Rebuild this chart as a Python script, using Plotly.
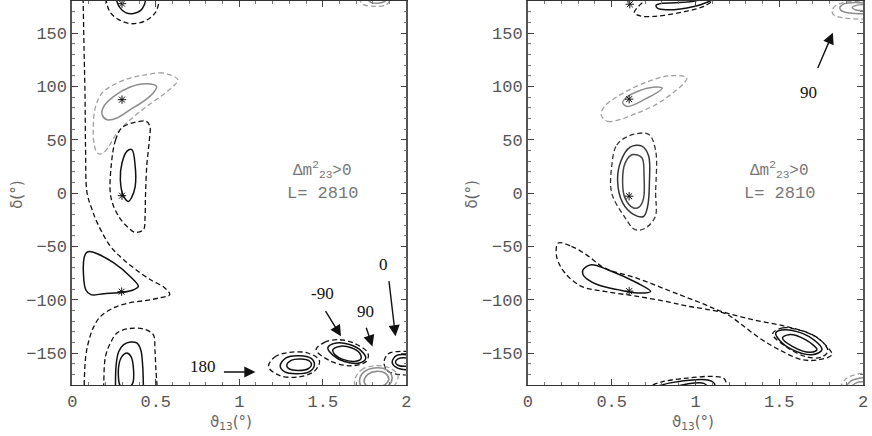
import plotly.graph_objects as go

# contour lines, points are (theta13 [deg], delta [deg])

# ---- left panel ----
L_BIG_DASH = [(0.065, 183), (0.071, 134), (0.077, 88), (0.080, 41), (0.089, 0), (0.12, -16),
              (0.15, -28), (0.229, -50), (0.308, -62.5), (0.406, -74.7), (0.485, -82.9),
              (0.544, -87.6), (0.584, -95.3), (0.525, -98.2), (0.445, -100.7), (0.347, -102.8),
              (0.249, -107.5), (0.170, -115.7), (0.130, -125), (0.101, -137.5), (0.081, -153.2),
              (0.071, -183)]
L_TOP_SOLID = [(0.26, 183), (0.284, 174), (0.320, 169.1), (0.367, 168.2), (0.408, 171),
               (0.432, 176.5), (0.44, 183)]
L_TOP_DASH = [(0.20, 183), (0.225, 170), (0.278, 162.5), (0.355, 158.7), (0.438, 161.5),
              (0.497, 169), (0.525, 183)]
L_GRAY_DASH = [(0.633, 106.3), (0.544, 112.5), (0.446, 110.9), (0.347, 107.8), (0.249, 101.5),
               (0.179, 93.8), (0.140, 81.2), (0.126, 62.4), (0.130, 46.9), (0.150, 37.5),
               (0.179, 36.8), (0.219, 43.7), (0.268, 56.2), (0.347, 68.7), (0.446, 81.2),
               (0.544, 92.2), (0.614, 101.5)]
L_GRAY_SOLID = [(0.505, 100), (0.446, 102.5), (0.347, 99.4), (0.249, 90.6), (0.189, 81.2),
                (0.179, 73.4), (0.209, 68.7), (0.268, 70.3), (0.347, 78.1), (0.426, 85.9),
                (0.485, 93.8)]
L_MID_DASH = [(0.298, 61.2), (0.260, 50), (0.234, 26.5), (0.231, -3.5), (0.278, -21.9),
              (0.337, -32.8), (0.377, -36.9), (0.426, -34.4), (0.436, -21.9), (0.438, -6.3),
              (0.446, 25), (0.462, 50), (0.465, 62.4), (0.444, 67.1), (0.379, 66.4)]
L_MID_SOLID = [(0.357, 40.6), (0.377, 24.9), (0.377, 6.2), (0.355, -4.4), (0.337, -7.9),
               (0.308, -3.2), (0.288, 12.5), (0.298, 28.1), (0.327, 39)]
L_TRI_SOLID = [(0.101, -54.8), (0.150, -56.9), (0.249, -65.6), (0.347, -78.2), (0.396, -87.6),
               (0.367, -90.7), (0.308, -93), (0.189, -94.4), (0.111, -95.3), (0.081, -90.7),
               (0.067, -75), (0.071, -60.9), (0.083, -56.2)]
L_LOW_DASH = [(0.189, -183), (0.189, -178), (0.199, -153.2), (0.229, -140.6), (0.268, -131.2),
              (0.337, -127.2), (0.426, -127.5), (0.485, -132.8), (0.495, -146.9), (0.501, -165.6),
              (0.509, -183)]
L_LOW_SOLID = [(0.259, -183), (0.263, -161), (0.278, -148.8), (0.308, -142.2), (0.349, -139.7),
               (0.386, -140.6), (0.410, -146.9), (0.422, -162.6), (0.426, -183)]
L_LOW_INNER = [(0.284, -179.7), (0.278, -162.6), (0.298, -153.2), (0.327, -150), (0.352, -153.5),
               (0.367, -165.7), (0.361, -178.8), (0.331, -182.5), (0.296, -181.6)]
L_A_DASH = [(1.175, -163), (1.21, -154), (1.30, -149.5), (1.41, -150), (1.48, -157),
            (1.45, -167), (1.35, -172.5), (1.24, -171)]
L_A_SOLID = [(1.245, -162), (1.28, -154.5), (1.36, -152.5), (1.43, -155), (1.45, -161),
             (1.42, -167.5), (1.34, -169.5), (1.27, -167.5)]
L_A_INNER = [(1.284, -162), (1.31, -157), (1.37, -155.6), (1.42, -157.5), (1.432, -161),
             (1.41, -165), (1.35, -166.3), (1.30, -165)]
L_B_DASH = [(1.46, -147), (1.51, -140), (1.59, -137.5), (1.69, -141), (1.77, -150),
            (1.76, -158), (1.66, -162), (1.54, -157)]
L_B_SOLID = [(1.53, -145), (1.58, -140.6), (1.66, -142), (1.73, -148), (1.757, -155),
             (1.72, -159.4), (1.63, -158), (1.56, -152)]
L_B_INNER = [(1.56, -147), (1.60, -143.8), (1.67, -145), (1.72, -150), (1.728, -155.5),
             (1.69, -157.9), (1.62, -156), (1.575, -152)]
L_C_DASH = [(1.69, -176), (1.73, -166), (1.81, -162), (1.90, -164), (1.95, -171),
            (1.92, -182), (1.81, -188), (1.71, -185)]
L_C_SOLID = [(1.72, -176), (1.745, -168), (1.81, -164), (1.885, -166), (1.915, -173),
             (1.89, -181), (1.81, -185), (1.74, -183)]
L_C_INNER = [(1.747, -176), (1.77, -170), (1.82, -167.2), (1.875, -169), (1.895, -175),
             (1.87, -180), (1.82, -182), (1.765, -181)]
L_C_TOP_DASH = [(1.715, 183), (1.74, 177), (1.81, 175), (1.88, 176.5), (1.91, 183)]
L_C_TOP_SOLID = [(1.76, 183), (1.79, 178.5), (1.83, 178), (1.87, 179.5), (1.885, 183)]
L_D_DASH = [(1.866, -159.4), (1.89, -151), (1.964, -148.5), (2.04, -150), (2.08, -159),
            (2.04, -169), (1.964, -170.3), (1.89, -167)]
L_D_SOLID = [(1.915, -158.6), (1.94, -152.5), (2.0, -151.6), (2.06, -154), (2.08, -159),
             (2.05, -164.5), (2.0, -165.7), (1.94, -163.5)]
L_D_INNER = [(1.935, -158.6), (1.95, -155.5), (2.0, -154.7), (2.04, -156.5), (2.05, -159),
             (2.03, -161.5), (2.0, -162.5), (1.95, -161.5)]
L_STAR_X = [0.298, 0.298, 0.298, 0.296]
L_STAR_Y = [177.5, 87.5, -2.5, -92.5]

# ---- right panel ----
R_TOP_DASH = [(0.72, 183), (0.66, 175), (0.635, 169), (0.67, 166), (0.75, 165.5),
              (0.85, 167.5), (0.95, 170.5), (1.05, 175), (1.13, 183)]
R_TOP_SOLID = [(1.07, 183), (0.98, 179.5), (0.88, 178.3), (0.80, 177.8), (0.765, 176),
               (0.775, 173), (0.83, 171.7), (0.92, 172.8), (1.02, 176), (1.13, 183)]
R_GRAY_DASH = [(0.437, 73.4), (0.476, 67.1), (0.653, 75), (0.811, 87.5), (0.948, 107.8),
               (0.850, 110), (0.693, 103.1), (0.535, 90.6), (0.457, 81.2)]
R_GRAY_SOLID = [(0.565, 84.4), (0.594, 81.2), (0.693, 87.5), (0.801, 98.4), (0.761, 99.4),
                (0.653, 95.2), (0.584, 89.1)]
R_MID_DASH = [(0.50, 25), (0.53, 45), (0.61, 54), (0.72, 55), (0.762, 40), (0.762, 0),
              (0.76, -22), (0.70, -33), (0.64, -34.4), (0.575, -22), (0.50, 0)]
R_MID_SOLID = [(0.535, 12), (0.555, 30), (0.61, 43), (0.68, 44), (0.72, 35), (0.725, 10),
               (0.715, -12), (0.69, -22), (0.63, -20), (0.565, -9)]
R_MID_INNER = [(0.565, 10), (0.58, 28), (0.625, 36), (0.68, 33), (0.693, 15), (0.69, -5),
               (0.665, -13), (0.63, -14), (0.58, -5)]
R_BAN_DASH = [(0.181, -46.9), (0.26, -50), (0.35, -58), (0.457, -70.3), (0.653, -80),
              (0.85, -92), (0.948, -98), (1.047, -104), (1.145, -110.5), (1.342, -118.8),
              (1.538, -125), (1.696, -132.8), (1.774, -142.2), (1.814, -151.6), (1.735, -156.3),
              (1.637, -156.3), (1.499, -146.9), (1.381, -135.9), (1.263, -121.9), (1.184, -113.5),
              (1.066, -109), (0.948, -106), (0.85, -102.5), (0.653, -96.9), (0.457, -92.2),
              (0.319, -87.5), (0.221, -75), (0.171, -59.4)]
R_LOOP_SOLID = [(0.329, -71.9), (0.378, -67.2), (0.476, -71.9), (0.653, -84.4), (0.732, -92.2),
                (0.653, -93.8), (0.535, -90.6), (0.417, -86), (0.358, -81.2), (0.329, -76.6)]
R_E_DASH = [(1.46, -132), (1.52, -126.5), (1.62, -128.5), (1.74, -137), (1.79, -148),
            (1.75, -154), (1.66, -153.5), (1.55, -145)]
R_E_SOLID = [(1.479, -131.2), (1.538, -128.2), (1.676, -134.4), (1.755, -146.9), (1.696, -151.6),
             (1.578, -146.9), (1.499, -137.5)]
R_E_INNER = [(1.519, -135.9), (1.558, -132.8), (1.656, -137.5), (1.725, -146.9), (1.686, -149.4),
             (1.578, -143.8)]
R_BOT_DASH = [(0.70, -183), (0.80, -177), (0.95, -173.5), (1.10, -172), (1.17, -174), (1.19, -183)]
R_BOT_SOLID = [(0.73, -183), (0.85, -178), (1.0, -175), (1.08, -175.5), (1.11, -178), (1.12, -183)]
R_BOT_INNER = [(0.85, -183), (0.95, -179), (1.05, -178.5), (1.08, -183)]
R_GB_DASH = [(1.86, -183), (1.90, -174), (1.96, -170), (2.02, -169)]
R_GB_SOLID = [(1.89, -183), (1.93, -176), (1.98, -173.5), (2.02, -173)]
R_GB_INNER = [(1.92, -183), (1.96, -178), (2.02, -177)]
R_GT_DASH = [(2.02, 163), (1.89, 164), (1.825, 167), (1.815, 171), (1.84, 176), (1.90, 179), (2.02, 180)]
R_GT_SOLID = [(2.02, 168), (1.92, 168.7), (1.87, 171), (1.862, 174), (1.89, 177.5), (1.95, 178.5), (2.02, 178)]
R_GT_INNER = [(2.02, 171), (1.95, 172), (1.935, 174), (1.96, 176), (2.02, 176.5)]
R_STAR_X = [0.608, 0.604, 0.604, 0.604]
R_STAR_Y = [177, 88, -3, -92]

X_TICKS = [0, 0.5, 1, 1.5, 2]
X_TICK_TEXT = ["0", "0.5", "1", "1.5", "2"]
Y_TICKS = [-150, -100, -50, 0, 50, 100, 150]

# arrow labels: (text, label x, label y, tail x, tail y, head x, head y)
L_ARROWS = [("180", 0.781, -162.6, 0.899, -167.8, 1.097, -167.8),
            ("-90", 1.501, -93.8, 1.511, -109.4, 1.609, -134.4),
            ("90", 1.757, -111, 1.757, -125, 1.797, -143.8),
            ("0", 1.865, -67.2, 1.895, -81.2, 1.935, -134.4)]
R_ARROWS = [("90", 1.676, 93.8, 1.726, 115.7, 1.82, 150.3)]

BLACK = "#111111"
GRAY_SOLID = "#8c8c8c"
GRAY_DASH = "#a0a0a0"
DASH = "5px,3px"

fig = go.Figure()


def add_curve(pts, ax, color, dash=None, width=1.4, closed=True):
    xs = [p[0] for p in pts]
    ys = [p[1] for p in pts]
    if closed:
        xs.append(xs[0])
        ys.append(ys[0])
    fig.add_trace(go.Scatter(
        x=xs, y=ys, mode="lines",
        line=dict(color=color, width=width, dash=dash or "solid", shape="spline", smoothing=1.0),
        xaxis="x" + ax, yaxis="y" + ax, showlegend=False, hoverinfo="skip"))


def add_stars(xs, ys, ax):
    fig.add_trace(go.Scatter(
        x=xs, y=ys, mode="markers",
        marker=dict(symbol="asterisk-open", size=7, color=BLACK, line=dict(width=1, color=BLACK)),
        xaxis="x" + ax, yaxis="y" + ax, showlegend=False, hoverinfo="skip"))


# left
add_curve(L_BIG_DASH, "", BLACK, DASH, 1.3, closed=False)
add_curve(L_TOP_SOLID, "", BLACK, None, 1.5, closed=False)
add_curve(L_TOP_DASH, "", BLACK, DASH, 1.3, closed=False)
add_curve(L_GRAY_DASH, "", GRAY_DASH, DASH, 1.3)
add_curve(L_GRAY_SOLID, "", GRAY_SOLID, None, 1.5)
add_curve(L_MID_DASH, "", BLACK, DASH, 1.3)
add_curve(L_MID_SOLID, "", BLACK, None, 1.5)
add_curve(L_TRI_SOLID, "", BLACK, None, 1.5)
add_curve(L_LOW_DASH, "", BLACK, DASH, 1.3, closed=False)
add_curve(L_LOW_SOLID, "", BLACK, None, 1.5, closed=False)
add_curve(L_LOW_INNER, "", BLACK, None, 1.5)
for pts in (L_A_DASH, L_B_DASH, L_D_DASH):
    add_curve(pts, "", BLACK, DASH, 1.3)
for pts in (L_A_SOLID, L_A_INNER, L_B_SOLID, L_B_INNER, L_D_SOLID, L_D_INNER):
    add_curve(pts, "", BLACK, None, 1.5)
add_curve(L_C_DASH, "", GRAY_DASH, DASH, 1.3)
add_curve(L_C_SOLID, "", GRAY_SOLID, None, 1.6)
add_curve(L_C_INNER, "", GRAY_SOLID, None, 1.6)
add_curve(L_C_TOP_DASH, "", GRAY_DASH, DASH, 1.3, closed=False)
add_curve(L_C_TOP_SOLID, "", GRAY_SOLID, None, 1.5, closed=False)
add_stars(L_STAR_X, L_STAR_Y, "")

# right
add_curve(R_TOP_DASH, "2", BLACK, DASH, 1.3, closed=False)
add_curve(R_TOP_SOLID, "2", BLACK, None, 1.5, closed=False)
add_curve(R_GRAY_DASH, "2", GRAY_DASH, DASH, 1.3)
add_curve(R_GRAY_SOLID, "2", GRAY_SOLID, None, 1.5)
add_curve(R_MID_DASH, "2", "#333333", DASH, 1.3)
add_curve(R_MID_SOLID, "2", "#333333", None, 1.5)
add_curve(R_MID_INNER, "2", "#444444", None, 1.5)
add_curve(R_BAN_DASH, "2", BLACK, DASH, 1.3)
add_curve(R_LOOP_SOLID, "2", BLACK, None, 1.5)
add_curve(R_E_DASH, "2", BLACK, DASH, 1.3)
add_curve(R_E_SOLID, "2", BLACK, None, 1.5)
add_curve(R_E_INNER, "2", BLACK, None, 1.5)
add_curve(R_BOT_DASH, "2", BLACK, DASH, 1.3, closed=False)
add_curve(R_BOT_SOLID, "2", BLACK, None, 1.5, closed=False)
add_curve(R_BOT_INNER, "2", BLACK, None, 1.5, closed=False)
add_curve(R_GB_DASH, "2", GRAY_DASH, DASH, 1.3, closed=False)
add_curve(R_GB_SOLID, "2", GRAY_SOLID, None, 1.5, closed=False)
add_curve(R_GB_INNER, "2", GRAY_SOLID, None, 1.5, closed=False)
add_curve(R_GT_DASH, "2", GRAY_DASH, DASH, 1.3, closed=False)
add_curve(R_GT_SOLID, "2", GRAY_SOLID, None, 1.5, closed=False)
add_curve(R_GT_INNER, "2", GRAY_SOLID, None, 1.3, closed=False)
add_stars(R_STAR_X, R_STAR_Y, "2")

tick_font = dict(family="Liberation Mono", size=17, color="#555555")
xax = dict(range=[0, 2], tickvals=X_TICKS, ticktext=X_TICK_TEXT, ticks="inside", ticklen=6,
           tickcolor="#444", showline=True, linecolor="#333", linewidth=1.4, mirror="allticks",
           showgrid=False, zeroline=False, tickfont=tick_font,
           minor=dict(dtick=0.1, ticks="inside", ticklen=3, tickcolor="#777"))
yax = dict(range=[-180, 180], tickvals=Y_TICKS, ticks="inside", ticklen=6, tickcolor="#444",
           showline=True, linecolor="#555", linewidth=1.6, mirror="allticks",
           showgrid=False, zeroline=False, tickfont=tick_font,
           minor=dict(dtick=10, ticks="inside", ticklen=3, tickcolor="#777"))

fig.update_layout(
    width=872, height=436, margin=dict(l=0, r=0, t=1, b=51),
    plot_bgcolor="white", paper_bgcolor="white",
    xaxis=dict(xax, domain=[68 / 872, 406 / 872], anchor="y"),
    yaxis=dict(yax, domain=[0, 1], anchor="x"),
    xaxis2=dict(xax, domain=[529 / 872, 868 / 872], anchor="y2"),
    yaxis2=dict(yax, domain=[0, 1], anchor="x2"),
)

annots = []
for ax in ("", "2"):
    annots.append(dict(x=1.5, y=22, xref="x" + ax, yref="y" + ax, showarrow=False,
                       text="Δm<sup>2</sup><sub>23</sub>>0",
                       font=dict(family="Liberation Mono", size=16, color="#777")))
    annots.append(dict(x=1.5, y=0, xref="x" + ax, yref="y" + ax, showarrow=False,
                       text="L= 2810", font=dict(family="Liberation Mono", size=17, color="#777")))

for ax, arrows in (("", L_ARROWS), ("2", R_ARROWS)):
    for txt, lx, ly, tx, ty, hx, hy in arrows:
        annots.append(dict(x=lx, y=ly, xref="x" + ax, yref="y" + ax, showarrow=False, text=txt,
                           font=dict(family="Liberation Serif", size=17, color=BLACK)))
        annots.append(dict(x=hx, y=hy, ax=tx, ay=ty, xref="x" + ax, yref="y" + ax,
                           axref="x" + ax, ayref="y" + ax, text="", showarrow=True,
                           arrowhead=2, arrowsize=1.6, arrowwidth=1.4, arrowcolor=BLACK))

# axis titles, placed in paper coords of the plot area (y from px 1 to 385)
title_font = dict(family="DejaVu Sans", size=15, color="#666")
ty_bottom = (385 - 422) / 384
ty_mid = (385 - 195) / 384
for tx in (229 / 872, 696 / 872):
    annots.append(dict(x=tx, y=ty_bottom, xref="paper", yref="paper", showarrow=False,
                       xanchor="center", yanchor="middle",
                       text="ϑ<sub>13</sub>(°)", font=title_font))
for tx in (12 / 872, 472 / 872):
    annots.append(dict(x=tx, y=ty_mid, xref="paper", yref="paper", showarrow=False,
                       xanchor="center", yanchor="middle",
                       text="δ(°)", textangle=-90, font=title_font))
fig.update_layout(annotations=annots)

# the page body has a default 8px margin; drop it so the figure sits at the corner
fig.write_html("out.html", config={"displayModeBar": False},
               post_script="document.body.style.margin='0px';")
